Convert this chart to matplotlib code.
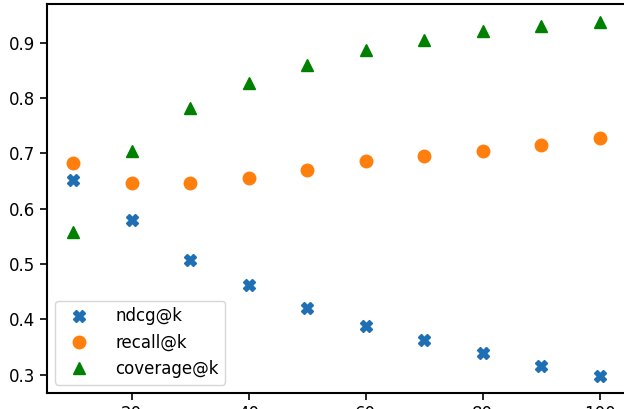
import matplotlib
matplotlib.use("Agg")
import matplotlib.pyplot as plt

k_values = [10, 20, 30, 40, 50, 60, 70, 80, 90, 100]
ndcg = [0.652, 0.580, 0.508, 0.462, 0.421, 0.388, 0.363, 0.339, 0.316, 0.298]
recall = [0.683, 0.647, 0.647, 0.656, 0.670, 0.687, 0.696, 0.705, 0.716, 0.728]
coverage = [0.558, 0.705, 0.782, 0.828, 0.860, 0.887, 0.905, 0.922, 0.931, 0.938]

plt.rcParams["font.size"] = 12

fig = plt.figure(figsize=(6.24, 4.09), dpi=100)
# the reference is a cropped screenshot: right spine and x labels run off the edge
ax = fig.add_axes([47 / 624, 16 / 409, 579 / 624, 389 / 409])

ax.plot(k_values, ndcg, "X", color="#1f6fb4", markersize=9, label="ndcg@k")
ax.plot(k_values, recall, "o", color="#ff7f0e", markersize=9, label="recall@k")
ax.plot(k_values, coverage, "^", color="green", markersize=9, label="coverage@k")

ax.set_ylim(0.267, 0.970)
ax.set_xticks([20, 40, 60, 80, 100])
ax.set_yticks([0.3, 0.4, 0.5, 0.6, 0.7, 0.8, 0.9])
for s in ax.spines.values():
    s.set_linewidth(1.5)
ax.tick_params(length=5, width=1.2)
ax.legend(loc="lower left", fontsize=12, handletextpad=1.2)

fig.savefig("out.png", dpi=100)
